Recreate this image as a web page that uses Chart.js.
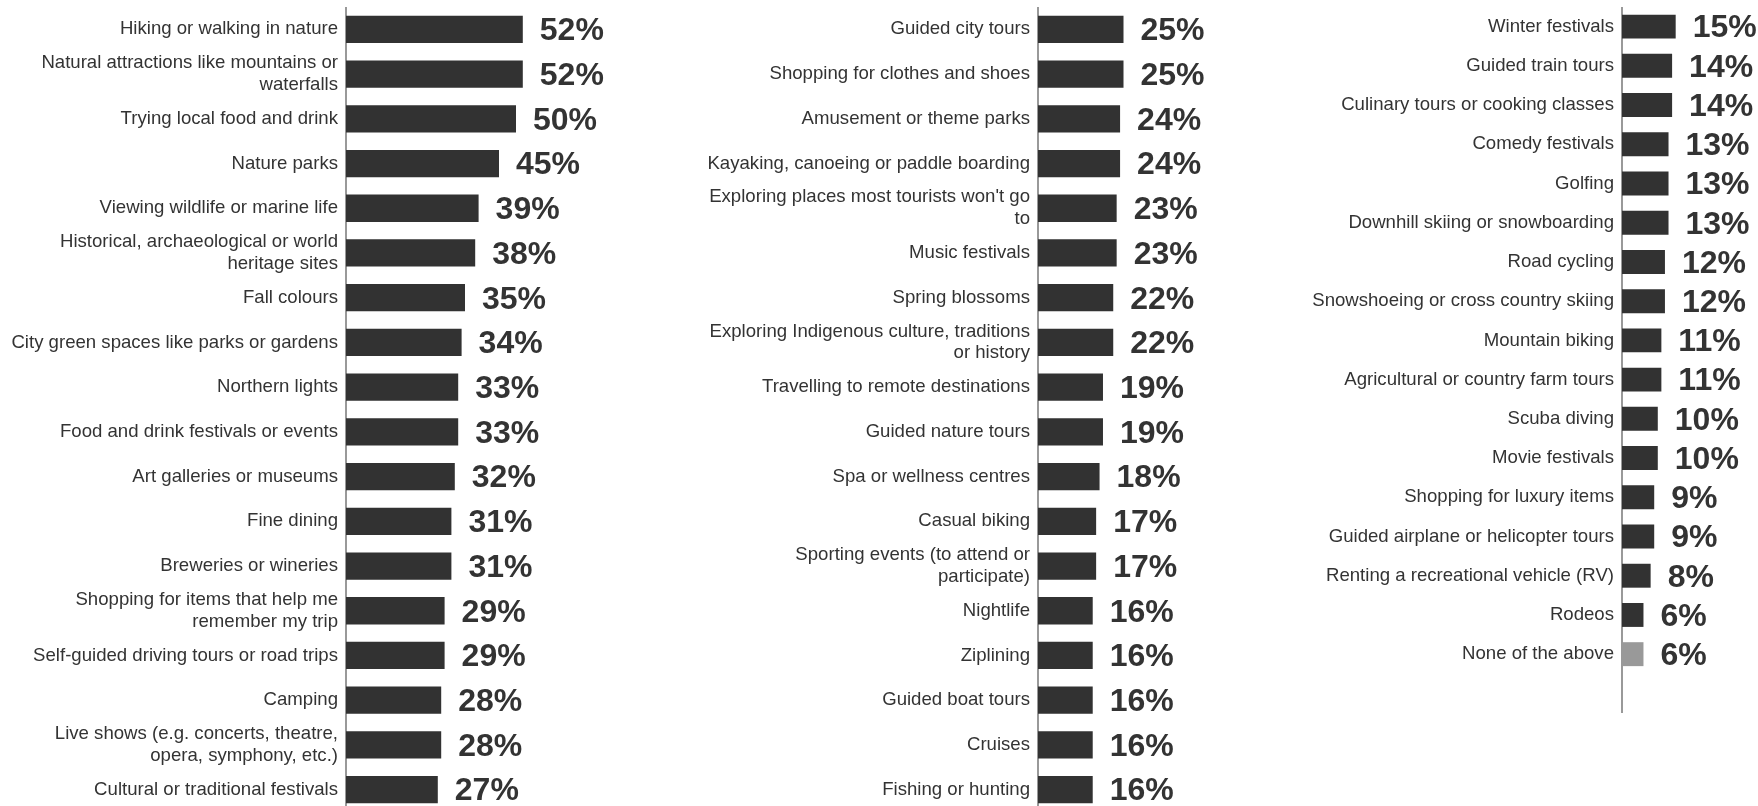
<!DOCTYPE html>
<html>
<head>
<meta charset="utf-8">
<script src="https://cdn.jsdelivr.net/npm/chart.js@4.4.1/dist/chart.umd.min.js"></script>
<style>
  html, body { margin: 0; padding: 0; background: #fff; overflow: hidden; }
  body { width: 1758px; height: 806px; position: relative; }
  canvas { position: absolute; }
</style>
</head>
<body>
<canvas id="col1"></canvas>
<canvas id="col2"></canvas>
<canvas id="col3"></canvas>
<script>
// Activities, first column
const activities1 = [
  'Hiking or walking in nature',
  ['Natural attractions like mountains or', 'waterfalls'],
  'Trying local food and drink',
  'Nature parks',
  'Viewing wildlife or marine life',
  ['Historical, archaeological or world', 'heritage sites'],
  'Fall colours',
  'City green spaces like parks or gardens',
  'Northern lights',
  'Food and drink festivals or events',
  'Art galleries or museums',
  'Fine dining',
  'Breweries or wineries',
  ['Shopping for items that help me', 'remember my trip'],
  'Self-guided driving tours or road trips',
  'Camping',
  ['Live shows (e.g. concerts, theatre,', 'opera, symphony, etc.)'],
  'Cultural or traditional festivals'
];
const shares1 = [52, 52, 50, 45, 39, 38, 35, 34, 33, 33, 32, 31, 31, 29, 29, 28, 28, 27];

// Activities, second column
const activities2 = [
  'Guided city tours',
  'Shopping for clothes and shoes',
  'Amusement or theme parks',
  'Kayaking, canoeing or paddle boarding',
  ["Exploring places most tourists won't go", 'to'],
  'Music festivals',
  'Spring blossoms',
  ['Exploring Indigenous culture, traditions', 'or history'],
  'Travelling to remote destinations',
  'Guided nature tours',
  'Spa or wellness centres',
  'Casual biking',
  ['Sporting events (to attend or', 'participate)'],
  'Nightlife',
  'Ziplining',
  'Guided boat tours',
  'Cruises',
  'Fishing or hunting'
];
const shares2 = [25, 25, 24, 24, 23, 23, 22, 22, 19, 19, 18, 17, 17, 16, 16, 16, 16, 16];

// Activities, third column (last row left empty)
const activities3 = [
  'Winter festivals',
  'Guided train tours',
  'Culinary tours or cooking classes',
  'Comedy festivals',
  'Golfing',
  'Downhill skiing or snowboarding',
  'Road cycling',
  'Snowshoeing or cross country skiing',
  'Mountain biking',
  'Agricultural or country farm tours',
  'Scuba diving',
  'Movie festivals',
  'Shopping for luxury items',
  'Guided airplane or helicopter tours',
  'Renting a recreational vehicle (RV)',
  'Rodeos',
  'None of the above',
  ''
];
const shares3 = [15, 14, 14, 13, 13, 13, 12, 12, 11, 11, 10, 10, 9, 9, 8, 6, 6, null];

const BAR_COLOR = '#323232';
const NONE_COLOR = '#999999';
const TEXT_COLOR = '#333333';
const FONT = '"Liberation Sans", Arial, Helvetica, sans-serif';

// Bold percentage drawn just past the end of each bar
const valueLabels = {
  id: 'valueLabels',
  afterDatasetsDraw(chart) {
    const ctx = chart.ctx;
    const ds = chart.data.datasets[0];
    const meta = chart.getDatasetMeta(0);
    ctx.save();
    ctx.font = 'bold 32px ' + FONT;
    ctx.fillStyle = TEXT_COLOR;
    ctx.textAlign = 'left';
    ctx.textBaseline = 'middle';
    meta.data.forEach((bar, i) => {
      const v = ds.data[i];
      if (v === null || v === undefined) return;
      ctx.fillText(v + '%', bar.x + 17, bar.y + 2);
    });
    ctx.restore();
  }
};

function buildColumn(id, layout, labels, values) {
  const cv = document.getElementById(id);
  cv.width = layout.width;
  cv.height = layout.height;
  cv.style.left = layout.left + 'px';
  cv.style.top = layout.top + 'px';
  return new Chart(cv, {
    type: 'bar',
    data: {
      labels: labels,
      datasets: [{
        data: values,
        backgroundColor: labels.map(l => l === 'None of the above' ? NONE_COLOR : BAR_COLOR),
        borderWidth: 0,
        barPercentage: 0.61,
        categoryPercentage: 1.0
      }]
    },
    options: {
      indexAxis: 'y',
      responsive: false,
      animation: false,
      devicePixelRatio: 1,
      layout: { padding: 0 },
      plugins: { legend: { display: false }, tooltip: { enabled: false } },
      scales: {
        x: {
          display: false,
          min: 0,
          max: layout.xMax
        },
        y: {
          position: 'left',
          grid: { display: false, drawTicks: false },
          border: { display: true, color: '#999999', width: 2 },
          ticks: {
            color: TEXT_COLOR,
            padding: 8,
            autoSkip: false,
            font: { family: FONT, size: 18.6, lineHeight: 1.17 }
          },
          afterFit(scale) {
            scale.width = layout.axisWidth;
            scale.paddingTop = 0;
            scale.paddingBottom = 0;
          }
        }
      }
    },
    plugins: [valueLabels]
  });
}

buildColumn('col1', { left: 0, top: 7, width: 686, height: 805, axisWidth: 346, xMax: 100 }, activities1, shares1);
buildColumn('col2', { left: 690, top: 7, width: 690, height: 805, axisWidth: 348, xMax: 100 }, activities2, shares2);
buildColumn('col3', { left: 1290, top: 7, width: 468, height: 706, axisWidth: 332, xMax: 38 }, activities3, shares3);
</script>
</body>
</html>
